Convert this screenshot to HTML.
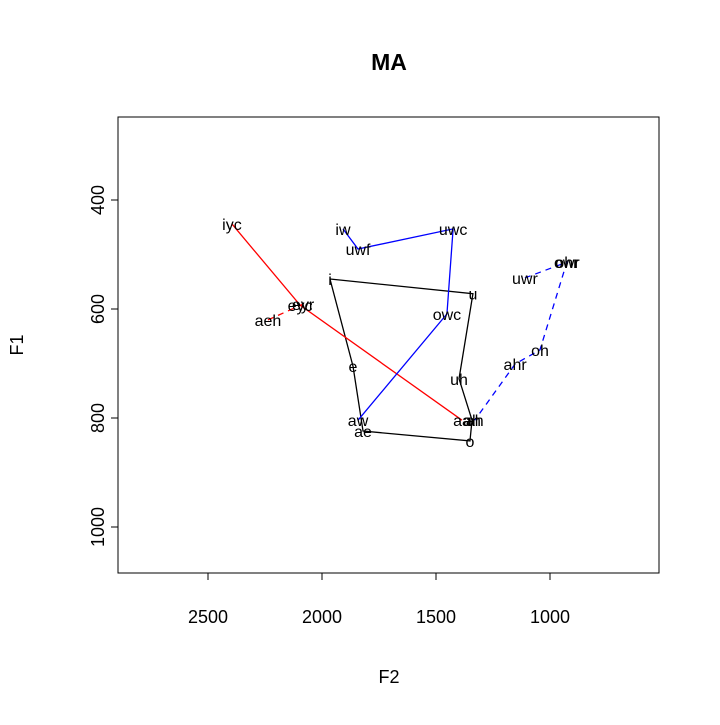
<!DOCTYPE html>
<html><head><meta charset="utf-8"><style>
body{margin:0;background:#fff}
svg text{font-family:"Liberation Sans",Arial,sans-serif}
</style></head><body>
<svg id="c" width="720" height="720">
<rect width="720" height="720" fill="#fff"/>
<text x="389" y="70" text-anchor="middle" font-size="23" font-weight="bold">MA</text>
<rect x="118" y="117" width="541" height="456" fill="none" stroke="#000"/>
<g id="xa"></g>
<g id="ya"></g>
<g id="series"></g>
<g id="labs"></g>
<text x="389" y="683" text-anchor="middle" font-size="18">F2</text>
<text transform="translate(23,345) rotate(-90)" text-anchor="middle" font-size="18">F1</text>
</svg>
<script>
const xTicks=[2500,2000,1500,1000];
const yTicks=[400,600,800,1000];
const blackLabels=["i","u","uh","ah","o","ae","e","i"];
const blackF2=[1965,1338,1399,1342,1351,1820,1864,1965];
const blackF1=[545,572,728,804,842,824,705,545];
const redLabels=["iyc","eyc","aa"];
const redF2=[2395,2096,1386];
const redF1=[444,593,804];
const redDLabels=["aeh","eyr"];
const redDF2=[2237,2083];
const redDF1=[620,591];
const blueLabels=["iw","uwf","uwc","owc","aw"];
const blueF2=[1908,1842,1425,1452,1842];
const blueF1=[453,490,453,609,804];
const blueDLabels=["uwr","owr","ohr","oh","ahr","ah"];
const blueDF2=[1110,926,926,1044,1153,1330];
const blueDF1=[543,514,514,675,701,804];
const X=v=>208+(2500-v)*0.228;
const Y=v=>200+(v-400)*0.545;
const NS="http://www.w3.org/2000/svg";
function mk(t,a,p){const e=document.createElementNS(NS,t);for(const k in a)e.setAttribute(k,a[k]);p.appendChild(e);return e;}
const xa=document.getElementById('xa'),ya=document.getElementById('ya');
mk('line',{x1:X(2500),x2:X(1000),y1:573,y2:573,stroke:'#000'},xa);
xTicks.forEach(v=>{mk('line',{x1:X(v),x2:X(v),y1:573,y2:580,stroke:'#000'},xa);
const t=mk('text',{x:X(v),y:623,'text-anchor':'middle','font-size':18},xa);t.textContent=v;

});
mk('line',{x1:118,x2:118,y1:Y(400),y2:Y(1000),stroke:'#000'},ya);
yTicks.forEach(v=>{mk('line',{x1:111,x2:118,y1:Y(v),y2:Y(v),stroke:'#000'},ya);
const t=mk('text',{transform:`translate(104,${Y(v)}) rotate(-90)`,'text-anchor':'middle','font-size':18},ya);t.textContent=v;

});
const sg=document.getElementById('series'),lg=document.getElementById('labs');
function series(name,labels,f2,f1,col,dash){
 const pl=mk('polyline',{points:f2.map((v,i)=>X(v)+','+Y(f1[i])).join(' '),fill:'none',stroke:col,'stroke-width':1.3,'stroke-dasharray':dash?'6,5':'none'},sg);
 
 
 labels.forEach((l,i)=>{const t=mk('text',{x:X(f2[i]),y:Y(f1[i])+6,'text-anchor':'middle','font-size':16},lg);t.textContent=l;
 
 });
}
series('black',blackLabels.slice(0,7),blackF2,blackF1,'#000',false);
series('red',redLabels,redF2,redF1,'#f00',false);
series('red-dashed',redDLabels,redDF2,redDF1,'#f00',true);
series('blue',blueLabels,blueF2,blueF1,'#00f',false);
series('blue-dashed',blueDLabels,blueDF2,blueDF1,'#00f',true);
</script>
</body></html>
